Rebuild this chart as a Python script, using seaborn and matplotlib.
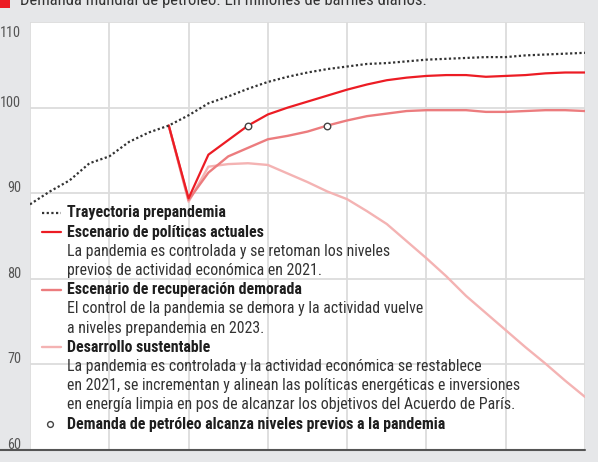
import matplotlib
matplotlib.use("Agg")
import matplotlib.pyplot as plt
import seaborn as sns
import pandas as pd
from matplotlib.lines import Line2D
from matplotlib.patches import Rectangle

# ---------------- data ----------------
years_pre = list(range(2012, 2041))
prepandemia = [88.7, 90.2, 91.5, 93.5, 94.3, 96.0, 97.1, 97.9, 99.1, 100.5,
               101.3, 102.2, 103.0, 103.6, 104.1, 104.5, 104.8, 105.1, 105.2,
               105.4, 105.6, 105.7, 105.8, 105.9, 105.9, 106.1, 106.2, 106.3, 106.4]

years_esc = list(range(2019, 2041))
politicas_actuales = [97.9, 89.4, 94.5, 96.2, 97.9, 99.2, 100.0, 100.7, 101.4, 102.1,
                      102.7, 103.2, 103.5, 103.7, 103.8, 103.8, 103.6, 103.7, 103.8,
                      104.0, 104.1, 104.1]
recuperacion_demorada = [97.9, 89.2, 92.4, 94.3, 95.3, 96.3, 96.7, 97.2, 97.9, 98.5,
                         99.0, 99.3, 99.6, 99.7, 99.7, 99.7, 99.5, 99.5, 99.6, 99.7,
                         99.7, 99.6]
desarrollo_sustentable = [97.9, 89.0, 93.1, 93.4, 93.5, 93.3, 92.3, 91.3, 90.2, 89.3,
                          87.9, 86.4, 84.4, 82.4, 80.3, 78.0, 76.0, 74.0, 72.0, 70.1,
                          68.1, 66.2]

hito_years = [2023, 2027]
hito_values = [97.9, 97.9]

y_ticks = [60, 70, 80, 90, 100, 110]
x_grid = list(range(2012, 2041, 4))

title = "Demanda mundial de petróleo. En millones de barriles diarios."

legend_rows = [
    ("dot", "Trayectoria prepandemia", True),
    ("red", "Escenario de políticas actuales", True),
    (None, "La pandemia es controlada y se retoman los niveles", False),
    (None, "previos de actividad económica en 2021.", False),
    ("mid", "Escenario de recuperación demorada", True),
    (None, "El control de la pandemia se demora y la actividad vuelve", False),
    (None, "a niveles prepandemia en 2023.", False),
    ("light", "Desarrollo sustentable", True),
    (None, "La pandemia es controlada y la actividad económica se restablece", False),
    (None, "en 2021, se incrementan y alinean las políticas energéticas e inversiones", False),
    (None, "en energía limpia en pos de alcanzar los objetivos del Acuerdo de París.", False),
    ("marker", "Demanda de petróleo alcanza niveles previos a la pandemia", True),
]

# ---------------- style ----------------
sns.set_style("white")
plt.rcParams['font.family'] = ['Liberation Sans Narrow', 'DejaVu Sans Condensed',
                               'Roboto Condensed', 'Roboto', 'DejaVu Sans']
plt.rcParams['font.stretch'] = 'condensed'

C_RED = "#ec1c24"
C_MID = "#ec7c7e"
C_LIGHT = "#f4b3b3"
C_DOT = "#333333"
BG = "#e6e7e9"
FS = 11.4
FS_TICK = 10.3

W, H = 598, 462
fig = plt.figure(figsize=(W / 100, H / 100), dpi=100, facecolor=BG)
ax = fig.add_axes([30 / W, 12 / H, 555 / W, 428 / H])
ax.set_facecolor("white")

sns.lineplot(x=years_esc, y=desarrollo_sustentable, ax=ax, color=C_LIGHT, linewidth=1.7, zorder=3)
sns.lineplot(x=years_esc, y=recuperacion_demorada, ax=ax, color=C_MID, linewidth=1.7, zorder=4)
sns.lineplot(x=years_esc, y=politicas_actuales, ax=ax, color=C_RED, linewidth=1.6, zorder=5)
sns.lineplot(x=years_pre, y=prepandemia, ax=ax, color=C_DOT, linewidth=1.6,
             linestyle=(0, (1, 1.1)), zorder=6)
sns.scatterplot(x=hito_years, y=hito_values, ax=ax, s=22, color="white",
                edgecolor="#444444", linewidth=1.0, zorder=7)

ax.set_xlim(2012, 2040)
ax.set_ylim(60, 110)
ax.set_xticks(x_grid)
ax.set_yticks(y_ticks)
ax.grid(True, color="#dcdcdc", linewidth=1.3)
ax.set_axisbelow(True)
ax.tick_params(length=0, labelbottom=False, labelleft=False)
ax.set_xlabel("")
ax.set_ylabel("")
for s in ax.spines.values():
    s.set_visible(False)

# y tick labels in the grey margin
for v in y_ticks:
    if v == y_ticks[-1]:
        ax.annotate(str(v), xy=(0, v), xycoords=("axes fraction", "data"),
                    xytext=(-9, -4), textcoords="offset pixels",
                    ha="right", va="top", fontsize=FS_TICK, color="#555555")
    else:
        ax.annotate(str(v), xy=(0, v), xycoords=("axes fraction", "data"),
                    xytext=(-9, 1), textcoords="offset pixels",
                    ha="right", va="baseline", fontsize=FS_TICK, color="#555555")

# bottom axis line spanning into the margin
fig.add_artist(Line2D([0, 585 / W], [12 / H, 12 / H], transform=fig.transFigure,
                      color="#555555", linewidth=1.5))

# title (partly cut at the top, as in the source) with red square
fig.add_artist(Rectangle((0, 1 - 8 / H), 10 / W, 8 / H, transform=fig.transFigure,
                         color=C_RED, linewidth=0))
fig.text(20 / W, 1 - 5 / H, title, va="baseline", ha="left", fontsize=12.0, color="#333333")

# custom legend inside the plot
y0, dy = 213, 19.2
for i, (kind, txt, bold) in enumerate(legend_rows):
    py = y0 + i * dy
    fy = 1 - py / H
    fig.text(67 / W, fy, txt, va="center", ha="left", fontsize=FS,
             fontweight="bold" if bold else "normal",
             color="#1e1e1e" if bold else "#333333", zorder=10)
    if kind == "dot":
        fig.add_artist(Line2D([42 / W, 61 / W], [fy, fy], transform=fig.transFigure,
                              color=C_DOT, linewidth=1.6, linestyle=(0, (1, 1.1))))
    elif kind == "red":
        fig.add_artist(Line2D([42 / W, 61 / W], [fy, fy], transform=fig.transFigure,
                              color=C_RED, linewidth=1.6))
    elif kind == "mid":
        fig.add_artist(Line2D([42 / W, 61 / W], [fy, fy], transform=fig.transFigure,
                              color=C_MID, linewidth=1.7))
    elif kind == "light":
        fig.add_artist(Line2D([42 / W, 61 / W], [fy, fy], transform=fig.transFigure,
                              color=C_LIGHT, linewidth=1.7))
    elif kind == "marker":
        fig.add_artist(Line2D([50 / W], [fy], transform=fig.transFigure, marker="o",
                              markersize=4.2, markerfacecolor="white",
                              markeredgecolor="#444444", markeredgewidth=1.0, linestyle="none"))

fig.savefig("out.png", dpi=100, facecolor=BG)
